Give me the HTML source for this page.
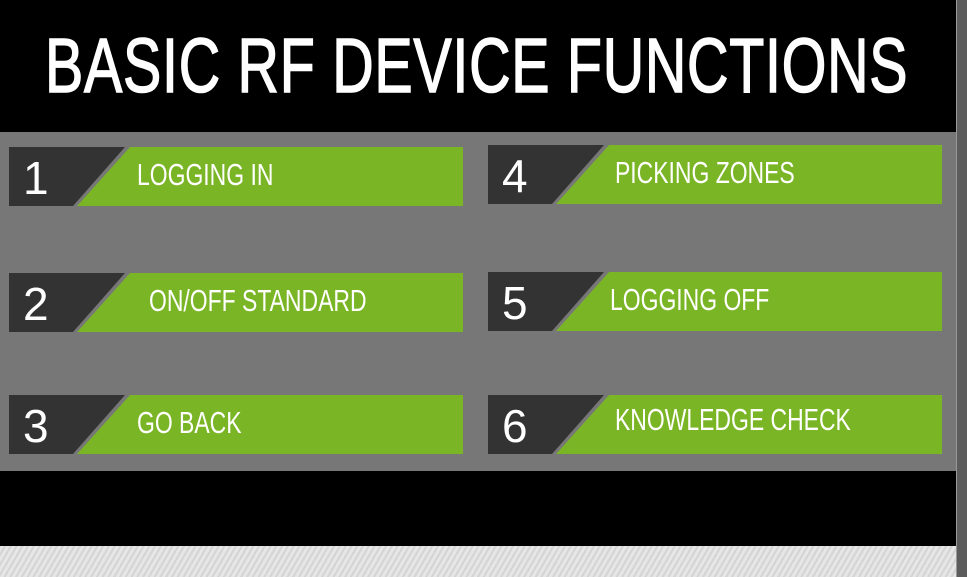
<!DOCTYPE html>
<html><head><style>
body{margin:0;width:967px;height:577px;overflow:hidden;background:#000;position:relative;font-family:"Liberation Sans",sans-serif;}
.t{position:absolute;left:0;top:0;width:956px;height:132px;background:#000;}
.title{position:absolute;left:45px;top:22px;font-size:77px;color:#fff;white-space:nowrap;transform-origin:0 0;transform:scaleX(0.745);letter-spacing:1px;-webkit-text-stroke:1.5px #fff;}
.gray{position:absolute;left:0;top:132px;width:956px;height:339px;background:#777;}
.bot{position:absolute;left:0;top:546px;width:956px;height:31px;background:repeating-linear-gradient(-60deg,#e6e6e6 0 3px,#d4d4d4 3px 5px);}
.strip{position:absolute;left:956px;top:0;width:11px;height:577px;background:#5c5c5c;border-left:1px solid #999;}
.row{position:absolute;width:455px;height:60px;}
.row svg{position:absolute;left:0;top:0;}
.num{position:absolute;left:14px;top:4px;font-size:46px;color:#fff;}
.lab{position:absolute;top:10px;font-size:31px;color:#fff;white-space:nowrap;transform-origin:0 0;transform:scaleX(0.74);}
</style></head><body>
<div class="t"></div>
<div class="title">BASIC RF DEVICE FUNCTIONS</div>
<div class="gray"></div>
<div class="bot"></div>
<div class="strip"></div>

<div class="row" style="left:9px;top:147px"><svg width="455" height="60"><polygon points="0,0 116,0 64,59 0,59" fill="#333"/><polygon points="121,0 454,0 454,59 68,59" fill="#7ab526"/></svg><div class="num">1</div><div class="lab" style="left:128px">LOGGING IN</div></div>
<div class="row" style="left:9px;top:273px"><svg width="455" height="60"><polygon points="0,0 116,0 64,59 0,59" fill="#333"/><polygon points="121,0 454,0 454,59 68,59" fill="#7ab526"/></svg><div class="num">2</div><div class="lab" style="left:140px">ON/OFF STANDARD</div></div>
<div class="row" style="left:9px;top:395px"><svg width="455" height="60"><polygon points="0,0 116,0 64,59 0,59" fill="#333"/><polygon points="121,0 454,0 454,59 68,59" fill="#7ab526"/></svg><div class="num">3</div><div class="lab" style="left:128px">GO BACK</div></div>

<div class="row" style="left:488px;top:145px"><svg width="455" height="60"><polygon points="0,0 116,0 64,59 0,59" fill="#333"/><polygon points="121,0 454,0 454,59 68,59" fill="#7ab526"/></svg><div class="num">4</div><div class="lab" style="left:127px">PICKING ZONES</div></div>
<div class="row" style="left:488px;top:272px"><svg width="455" height="60"><polygon points="0,0 116,0 64,59 0,59" fill="#333"/><polygon points="121,0 454,0 454,59 68,59" fill="#7ab526"/></svg><div class="num">5</div><div class="lab" style="left:122px">LOGGING OFF</div></div>
<div class="row" style="left:488px;top:395px"><svg width="455" height="60"><polygon points="0,0 116,0 64,59 0,59" fill="#333"/><polygon points="121,0 454,0 454,59 68,59" fill="#7ab526"/></svg><div class="num">6</div><div class="lab" style="left:127px;top:7px">KNOWLEDGE CHECK</div></div>
</body></html>
